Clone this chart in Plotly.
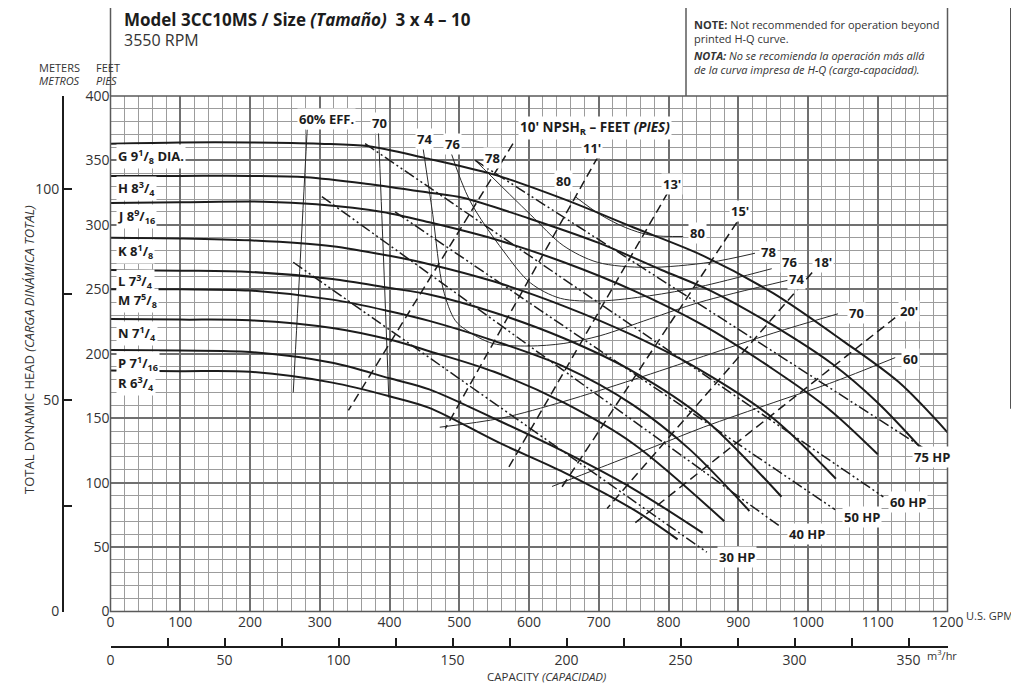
import plotly.graph_objects as go

W, H = 1019, 693
SHIFT = 8                  # the page body margin offsets the figure by 8 px
X0, X1 = 110.5, 947.5      # plot area left / right (reference px)
Y0, Y1 = 96.0, 611.5       # plot area top / bottom (reference px)


def fx(p):
    return (p - SHIFT) / W


def fy(p):
    return 1 - (p - SHIFT) / H


# ---------------- axis data ----------------
gpm_ticks = list(range(0, 1201, 100))
feet_ticks = list(range(0, 401, 50))
meter_ticks = [0, 25, 50, 75, 100]
meter_labels = ["0", "", "50", "", "100"]
m3h_ticks = [0, 25, 50, 75, 100, 125, 150, 175, 200, 225, 250, 275, 300, 325, 350]
m3h_labels = ["0", "", "50", "", "100", "", "150", "", "200", "", "250", "", "300", "", "350"]

# ---------------- impeller H-Q curves (U.S. GPM, feet) ----------------
G_q = [0, 100, 200, 300, 370, 450, 550, 650, 750, 850, 950, 1050, 1130, 1200]
G_h = [363, 364, 364, 363, 361, 352, 339, 320, 298, 276, 247, 210, 178, 139]
H_q = [0, 100, 200, 280, 366, 457, 505, 600, 700, 790, 860, 950, 1035, 1100, 1165]
H_h = [338, 338, 338, 337, 332, 325, 321, 305, 286, 265, 249, 222, 192, 162, 125]
J_q = [0, 100, 220, 295, 390, 457, 550, 650, 750, 850, 950, 1030, 1100]
J_h = [317, 317.5, 318, 316, 310, 302, 289, 271, 249, 222, 188, 157, 122]
K_q = [0, 100, 200, 318, 400, 457, 550, 650, 750, 850, 950, 1040]
K_h = [290, 289.5, 288, 283.5, 276, 269.5, 256, 237, 214, 186, 150, 103]
L_q = [0, 100, 200, 318, 400, 457, 550, 650, 750, 850, 962]
L_h = [265, 264.5, 263.5, 258, 251, 246, 232, 212, 186, 150, 89]
M_q = [0, 100, 200, 318, 400, 457, 550, 650, 750, 830, 916]
M_h = [250, 250, 249, 242, 233, 225.5, 210, 190, 160, 126, 78]
N_q = [0, 100, 200, 318, 400, 457, 550, 650, 750, 880]
N_h = [227, 226.5, 226, 220, 211, 202, 186, 162, 130, 70]
P_q = [0, 100, 200, 318, 400, 457, 557, 650, 750, 849]
P_h = [203, 202.5, 201.4, 193, 181, 172.4, 148, 124, 95, 61]
R_q = [0, 100, 200, 318, 400, 457, 557, 650, 750, 813]
R_h = [187, 186.5, 186, 177.6, 167, 158, 131, 108, 79, 56]

impeller_labels = ["G 9<sup>1</sup>/<sub>8</sub> DIA.", "H 8<sup>3</sup>/<sub>4</sub>",
                   "J 8<sup>9</sup>/<sub>16</sub>", "K 8<sup>1</sup>/<sub>8</sub>",
                   "L 7<sup>3</sup>/<sub>4</sub>", "M 7<sup>5</sup>/<sub>8</sub>",
                   "N 7<sup>1</sup>/<sub>4</sub>", "P 7<sup>1</sup>/<sub>16</sub>",
                   "R 6<sup>3</sup>/<sub>4</sub>"]
impeller_label_ft = [352.7, 327.9, 306.2, 279.7, 255.7, 241, 216.1, 192.8, 177.3]

# ---------------- efficiency curves ----------------
eff60a_q = [282, 272, 262]
eff60a_h = [374, 272, 170]
eff60b_q = [633, 704, 780, 850, 950, 1031, 1125]
eff60b_h = [97, 112, 128, 143, 162, 177, 197]
eff70a_q = [384, 391, 399]
eff70a_h = [374, 280, 166]
eff70b_q = [472, 560, 650, 750, 850, 950, 1043]
eff70b_h = [143, 150, 163, 180, 198, 216, 231]
eff74_q = [448, 462, 477, 494, 511, 548, 600, 650, 702, 773, 845, 971]
eff74_h = [360, 308, 250, 226, 218, 208, 206, 208, 214, 227, 240, 257]
eff76_q = [487, 515, 563, 602, 645, 702, 773, 845, 948]
eff76_h = [358, 319, 280, 255, 243, 241, 245, 252, 266]
eff78_q = [523, 602, 649, 698, 769, 860, 924]
eff78_h = [350, 308, 284, 271, 267, 271, 278]
eff80_q = [666, 702, 738, 774, 821]
eff80_h = [322, 308, 298, 292, 291]

eff_labels = ["60% EFF.", "70", "74", "76", "78", "80", "80", "78", "76", "74", "70", "60"]
eff_label_q = [309, 385, 450, 490, 548, 650, 841, 944, 974, 984, 1069, 1147]
eff_label_h = [382, 379, 367, 363, 352, 334, 294, 279, 271, 258, 232, 196]

# ---------------- NPSHr lines (feet) ----------------
npsh10_q = [577, 341]
npsh10_h = [363, 156]
npsh11_q = [699, 480]
npsh11_h = [353, 142]
npsh13_q = [799, 570]
npsh13_h = [325, 111]
npsh15_q = [898, 644]
npsh15_h = [302, 94]
npsh18_q = [1006, 712]
npsh18_h = [263, 80]
npsh20_q = [1125, 748]
npsh20_h = [228, 67]

npsh_labels = ["10' NPSH<sub>R</sub> – FEET <i>(PIES)</i>", "11'", "13'", "15'", "18'", "20'"]
npsh_label_q = [695, 690, 805, 902, 1021, 1145]
npsh_label_h = [375, 360, 332, 311, 271, 233]
npsh_label_size = [13.5, 13, 13, 13, 13, 13]

# ---------------- horsepower lines ----------------
hp75_q = [523, 1168]
hp75_h = [350, 126]
hp60_q = [365, 1108]
hp60_h = [363, 89]
hp50_q = [408, 1039]
hp50_h = [310, 79]
hp40_q = [303, 960]
hp40_h = [322, 66]
hp30_q = [262, 855]
hp30_h = [271, 46]

hp_labels = ["75 HP", "60 HP", "50 HP", "40 HP", "30 HP"]
hp_label_q = [1206, 1143, 1078, 999, 898]
hp_label_h = [120, 85, 73, 60, 42]

# ---------------- figure ----------------
SANS = "Open Sans, Noto Sans, sans-serif"
INK = "#1c1c1c"
fig = go.Figure()


def add_line(q, h, width, dash="solid", color=INK, shape="spline"):
    fig.add_trace(go.Scatter(x=q, y=h, mode="lines", hoverinfo="skip", showlegend=False,
                             line=dict(color=color, width=width, dash=dash, shape=shape,
                                       smoothing=0.9)))


for q, h in [(eff60a_q, eff60a_h), (eff60b_q, eff60b_h), (eff70a_q, eff70a_h),
             (eff70b_q, eff70b_h), (eff74_q, eff74_h), (eff76_q, eff76_h),
             (eff78_q, eff78_h), (eff80_q, eff80_h)]:
    add_line(q, h, 1.0, color="#2a2a2a")

for q, h in [(npsh10_q, npsh10_h), (npsh11_q, npsh11_h), (npsh13_q, npsh13_h),
             (npsh15_q, npsh15_h), (npsh18_q, npsh18_h), (npsh20_q, npsh20_h)]:
    add_line(q, h, 1.5, dash="9px,5px", shape="linear")

for q, h in [(hp75_q, hp75_h), (hp60_q, hp60_h), (hp50_q, hp50_h),
             (hp40_q, hp40_h), (hp30_q, hp30_h)]:
    add_line(q, h, 1.5, dash="11px,3px,2px,3px,2px,3px", shape="linear")

for q, h in [(G_q, G_h), (H_q, H_h), (J_q, J_h), (K_q, K_h), (L_q, L_h),
             (M_q, M_h), (N_q, N_h), (P_q, P_h), (R_q, R_h)]:
    add_line(q, h, 2.0)

# dummy traces so the secondary axes are drawn
fig.add_trace(go.Scatter(x=[0], y=[0], xaxis="x2", yaxis="y", mode="markers",
                         marker=dict(opacity=0), hoverinfo="skip", showlegend=False))
fig.add_trace(go.Scatter(x=[0], y=[0], xaxis="x", yaxis="y2", mode="markers",
                         marker=dict(opacity=0), hoverinfo="skip", showlegend=False))


def data_label(text, q, h, size=13, **kw):
    """Label placed at a data position; labels beyond the axis range use paper coords."""
    if 0 <= q <= 1200 and 0 <= h <= 400:
        d = dict(x=q, y=h, xref="x", yref="y")
    else:
        d = dict(x=fx(X0 + q / 1200 * (X1 - X0)), y=fy(Y1 - h / 400 * (Y1 - Y0)),
                 xref="paper", yref="paper")
    d.update(text="<b>" + text + "</b>", showarrow=False, bgcolor="white", borderpad=1,
             font=dict(family=SANS, size=size, color=INK))
    d.update(kw)
    return d


ann = []
for t, hv in zip(impeller_labels, impeller_label_ft):
    ann.append(data_label(t, 8, hv, xanchor="left", yanchor="middle"))
for t, qv, hv in zip(eff_labels, eff_label_q, eff_label_h):
    ann.append(data_label(t, qv, hv))
for t, qv, hv, sz in zip(npsh_labels, npsh_label_q, npsh_label_h, npsh_label_size):
    ann.append(data_label(t, qv, hv, size=sz))
for t, qv, hv in zip(hp_labels, hp_label_q, hp_label_h):
    ann.append(data_label(t, qv, hv))

small = dict(family=SANS, size=11, color="#333")
note_font = dict(family=SANS, size=11, color="#333")
ann += [
    dict(x=fx(122), y=fy(20), xref="paper", yref="paper", xanchor="left", yanchor="middle",
         showarrow=False, text="<b>Model 3CC10MS / Size <i>(Tamaño)</i>\u00a0 3 x 4 – 10</b>",
         font=dict(family=SANS, size=17, color=INK)),
    dict(x=fx(122), y=fy(40), xref="paper", yref="paper", xanchor="left", yanchor="middle",
         showarrow=False, text="3550 RPM", font=dict(family=SANS, size=16, color="#333")),
    dict(x=fx(692), y=fy(15), xref="paper", yref="paper", xanchor="left", showarrow=False,
         text="<b>NOTE:</b> Not recommended for operation beyond", font=note_font),
    dict(x=fx(692), y=fy(29), xref="paper", yref="paper", xanchor="left", showarrow=False,
         text="printed H-Q curve.", font=note_font),
    dict(x=fx(692), y=fy(46), xref="paper", yref="paper", xanchor="left", showarrow=False,
         text="<b><i>NOTA:</i></b> <i>No se recomienda la operación más allá</i>", font=note_font),
    dict(x=fx(692), y=fy(60), xref="paper", yref="paper", xanchor="left", showarrow=False,
         text="<i>de la curva impresa de H-Q (carga-capacidad).</i>", font=note_font),
    dict(x=fx(37), y=fy(58), xref="paper", yref="paper", showarrow=False,
         text="METERS", font=small),
    dict(x=fx(37), y=fy(71), xref="paper", yref="paper", showarrow=False,
         text="<i>METROS</i>", font=small),
    dict(x=fx(94), y=fy(58), xref="paper", yref="paper", showarrow=False,
         text="FEET", font=small),
    dict(x=fx(94), y=fy(71), xref="paper", yref="paper", showarrow=False,
         text="<i>PIES</i>", font=small),
    dict(x=fx(18), y=fy(350), xref="paper", yref="paper", showarrow=False, textangle=-90,
         text="TOTAL DYNAMIC HEAD <i>(CARGA DINÁMICA TOTAL)</i>",
         font=dict(family=SANS, size=13, color="#333")),
    dict(x=fx(546), y=fy(686), xref="paper", yref="paper", showarrow=False,
         text="CAPACITY <i>(CAPACIDAD)</i>", font=dict(family=SANS, size=11.5, color="#333")),
    dict(x=fx(964), y=fy(625), xref="paper", yref="paper", showarrow=False, xanchor="left",
         text="U.S. GPM", font=small),
    dict(x=fx(925), y=fy(665), xref="paper", yref="paper", showarrow=False, xanchor="left",
         text="m<sup>3</sup>/hr", font=small),
    # partially visible neighbouring table at the right edge
    dict(x=fx(1013), y=fy(104), xref="paper", yref="paper", showarrow=False, xanchor="left",
         text="<b>C</b>", font=dict(family=SANS, size=14, color=INK)),
    dict(x=fx(1013), y=fy(436), xref="paper", yref="paper", showarrow=False, xanchor="left",
         text="<b>N</b>", font=dict(family=SANS, size=16, color=INK)),
    dict(x=fx(1013), y=fy(455), xref="paper", yref="paper", showarrow=False, xanchor="left",
         text="<sup>1</sup>/", font=dict(family=SANS, size=10, color="#333")),
    dict(x=fx(1013), y=fy(491), xref="paper", yref="paper", showarrow=False, xanchor="left",
         text="<b><i>M</i></b>", font=dict(family=SANS, size=16, color=INK)),
    dict(x=fx(1013), y=fy(514), xref="paper", yref="paper", showarrow=False, xanchor="left",
         text="<i>Q</i>", font=dict(family=SANS, size=11, color="#333")),
]

FR = "#5a5a5a"
shapes = [
    dict(type="rect", xref="paper", yref="paper", x0=fx(X0), x1=fx(X1), y0=fy(Y1), y1=fy(Y0),
         line=dict(color=FR, width=1.5)),
    dict(type="line", xref="paper", yref="paper", x0=fx(X0), x1=fx(X1), y0=fy(7), y1=fy(7),
         line=dict(color=FR, width=1.5)),
    dict(type="line", xref="paper", yref="paper", x0=fx(X0), x1=fx(X0), y0=fy(7), y1=fy(Y0),
         line=dict(color=FR, width=1.5)),
    dict(type="line", xref="paper", yref="paper", x0=fx(X1), x1=fx(X1), y0=fy(7), y1=fy(Y0),
         line=dict(color=FR, width=1.5)),
    dict(type="line", xref="paper", yref="paper", x0=fx(686), x1=fx(686), y0=fy(7), y1=fy(Y0),
         line=dict(color=FR, width=1.5)),
    # right-hand table fragment
    dict(type="rect", xref="paper", yref="paper", x0=fx(1011), x1=fx(1040), y0=fy(408), y1=fy(8),
         line=dict(color=INK, width=1.5)),
    dict(type="line", xref="paper", yref="paper", x0=fx(1011), x1=fx(1040), y0=fy(65), y1=fy(65),
         line=dict(color=INK, width=2.5)),
    dict(type="line", xref="paper", yref="paper", x0=fx(1011), x1=fx(1040), y0=fy(122), y1=fy(122),
         line=dict(color=INK, width=2.5)),
]
for yy in [155, 187, 218, 250, 282, 315, 347, 378]:
    shapes.append(dict(type="line", xref="paper", yref="paper", x0=fx(1011), x1=fx(1040),
                       y0=fy(yy), y1=fy(yy), line=dict(color=INK, width=1.2)))

tick_font = dict(family=SANS, size=14, color="#333")
MAJ = "#707070"
MIN = "#9c9c9c"

fig.update_layout(
    width=W, height=H, margin=dict(l=0, r=0, t=0, b=0, autoexpand=False),
    paper_bgcolor="white", plot_bgcolor="white", showlegend=False,
    xaxis=dict(domain=[fx(X0), fx(X1)], range=[0, 1200], tickvals=gpm_ticks, ticks="",
               showgrid=True, gridcolor=MAJ, gridwidth=1.5, zeroline=False, showline=False,
               minor=dict(dtick=20, showgrid=True, gridcolor=MIN, gridwidth=1.2),
               tickfont=tick_font, fixedrange=True, automargin=False),
    yaxis=dict(domain=[fy(Y1), fy(Y0)], range=[0, 400], tickvals=feet_ticks, ticks="",
               showgrid=True, gridcolor=MAJ, gridwidth=1.5, zeroline=False, showline=False,
               minor=dict(dtick=10, showgrid=True, gridcolor=MIN, gridwidth=1.2),
               tickfont=tick_font, fixedrange=True, automargin=False),
    xaxis2=dict(overlaying="x", anchor="free", position=fy(647), side="bottom",
                range=[0, (X1 - X0) / 2.28], tickvals=m3h_ticks, ticktext=m3h_labels,
                ticks="inside", ticklen=8, tickwidth=1.5, tickcolor=INK, showline=True,
                linewidth=2, linecolor=INK, showgrid=False, zeroline=False,
                tickfont=tick_font, fixedrange=True, automargin=False),
    yaxis2=dict(overlaying="y", anchor="free", position=fx(63), side="left",
                range=[0, 400 / 3.2808], tickvals=meter_ticks, ticktext=meter_labels,
                ticks="inside", ticklen=8, tickwidth=1.5, tickcolor=INK, showline=True,
                linewidth=2, linecolor=INK, showgrid=False, zeroline=False,
                tickfont=tick_font, fixedrange=True, automargin=False),
    annotations=ann, shapes=shapes,
)

fig.write_html("out.html")
